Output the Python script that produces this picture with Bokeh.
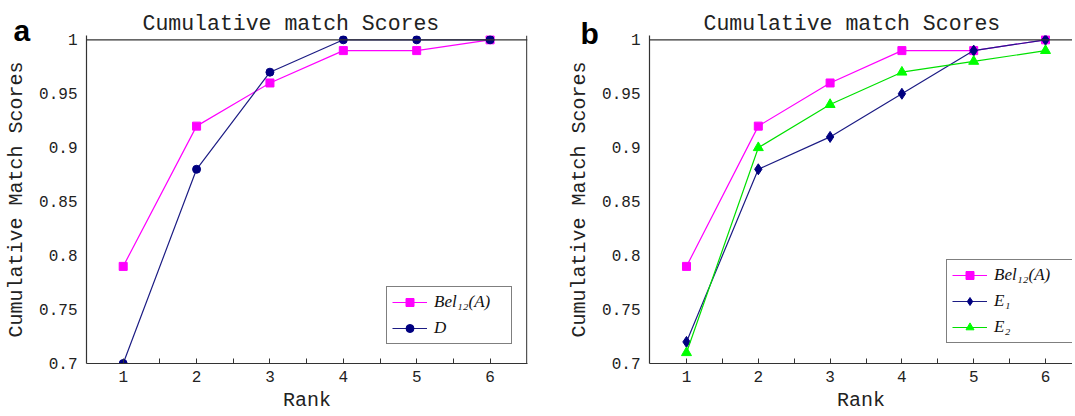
from bokeh.plotting import figure
from bokeh.layouts import row
from bokeh.models import FixedTicker, Legend, LegendItem, Span, Range1d, Title
from bokeh.embed import file_html
from bokeh.resources import INLINE

# ---------------- data ----------------
ranks = [1, 2, 3, 4, 5, 6]
bel12_a = [0.79, 0.92, 0.96, 0.99, 0.99, 1.0]
d_a = [0.70, 0.88, 0.97, 1.0, 1.0, 1.0]
bel12_b = [0.79, 0.92, 0.96, 0.99, 0.99, 1.0]
e1_b = [0.72, 0.88, 0.91, 0.95, 0.99, 1.0]
e2_b = [0.71, 0.90, 0.94, 0.97, 0.98, 0.99]

x_ticks = [1, 1.5, 2, 2.5, 3, 3.5, 4, 4.5, 5, 5.5, 6]
x_tick_labels = ["1", "", "2", "", "3", "", "4", "", "5", "", "6"]
y_ticks = [0.7, 0.75, 0.8, 0.85, 0.9, 0.95, 1]
y_tick_labels = ["0.7", "0.75", "0.8", "0.85", "0.9", "0.95", "1"]

title_text = "Cumulative match Scores"
y_label = "Cumulative Match Scores"
x_label = "Rank"
names_a = ["Bel\u2081\u2082(A)", "D"]
names_b = ["Bel\u2081\u2082(A)", "E\u2081", "E\u2082"]

# ---------------- style ----------------
MONO = "Liberation Mono"
MAGENTA = "#FF00FF"
NAVY = "#000080"
NAVY_LINE = "#1c1c84"
GREEN = "#00FF00"
GREEN_LINE = "#00E000"
AX = "#333333"
TXT = "#222222"
H = 414


def make_panel(width, left, right, x_start, x_end, right_border,
               letter, letter_dx, letter_so, title_dx, title_so):
    p = figure(width=width, height=H,
               x_range=Range1d(x_start, x_end), y_range=Range1d(0.7, 1.004),
               output_backend="svg", toolbar_location=None, title_location=None,
               min_border_left=left, min_border_right=right,
               min_border_top=35, min_border_bottom=H - 363)
    p.grid.visible = False
    p.background_fill_color = "white"
    p.border_fill_color = "white"
    p.outline_line_color = None
    p.add_layout(Span(location=1.0, dimension="width", line_color=AX, line_width=1.2))
    if right_border is not None:
        p.add_layout(Span(location=right_border, dimension="height", line_color=AX, line_width=1.2))

    xa = p.xaxis[0]
    ya = p.yaxis[0]
    xa.ticker = FixedTicker(ticks=x_ticks)
    xa.major_label_overrides = dict(zip(x_ticks, x_tick_labels))
    ya.ticker = FixedTicker(ticks=y_ticks)
    ya.major_label_overrides = dict(zip(y_ticks, y_tick_labels))
    xa.axis_label = x_label
    ya.axis_label = y_label
    for ax in (xa, ya):
        ax.axis_line_color = AX
        ax.axis_line_width = 1.2
        ax.minor_tick_line_color = None
        ax.major_label_text_font = MONO
        ax.major_label_text_font_size = "16px"
        ax.major_label_text_color = TXT
        ax.axis_label_text_font = MONO
        ax.axis_label_text_font_size = "20px"
        ax.axis_label_text_font_style = "normal"
        ax.axis_label_text_color = TXT
    xa.major_tick_in = 5
    xa.major_tick_out = 0
    xa.major_tick_line_color = AX
    xa.major_label_standoff = 7
    xa.axis_label_standoff = 4
    ya.major_tick_in = 0
    ya.major_tick_out = 0
    ya.major_tick_line_color = None
    ya.major_label_standoff = 9
    ya.axis_label_standoff = 8

    # panel letter (inner) and chart title (outer), both above the frame
    p.add_layout(Title(text=letter, align="left", offset=letter_dx, vertical_align="bottom",
                       standoff=letter_so, text_font="Liberation Sans", text_font_style="bold",
                       text_font_size="30px", text_color="black"), "above")
    p.add_layout(Title(text=title_text, align="left", offset=title_dx, vertical_align="bottom",
                       standoff=title_so, text_font=MONO, text_font_style="normal",
                       text_font_size="21.5px", text_color=TXT), "above")
    return p


def series(p, ys, color, line_color, marker, size):
    r1 = p.line(ranks, ys, line_color=line_color, line_width=1.2)
    r2 = p.scatter(ranks, ys, marker=marker, size=size, fill_color=color, line_color=color)
    return [r1, r2]


def legend(p, items, loc, label_width):
    lg = Legend(items=items, location=loc, margin=0,
                border_line_color="black", border_line_width=1.5,
                background_fill_color="white", background_fill_alpha=1.0,
                label_text_font="Liberation Serif", label_text_font_style="italic",
                label_text_font_size="17px", label_text_color="#111111",
                glyph_width=35, glyph_height=20, label_height=20,
                spacing=6, padding=5, label_standoff=7, label_width=label_width)
    p.add_layout(lg)


# panel a
pa = make_panel(562, 86, 35, 0.5, 6.51, 6.5, "a", -73, -22.8, 56, -24)
ra1 = series(pa, bel12_a, MAGENTA, MAGENTA, "square", 8)
ra2 = series(pa, d_a, NAVY, NAVY_LINE, "circle", 8)
legend(pa, [LegendItem(label=names_a[0], renderers=ra1),
            LegendItem(label=names_a[1], renderers=ra2)], (300, 19), 72)

# panel b
pb = make_panel(510, 87, 0, 0.4847, 6.376, None, "b", -69, -28.8, 54, -12)
rb1 = series(pb, bel12_b, MAGENTA, MAGENTA, "square", 8)
rb2 = series(pb, e1_b, NAVY, NAVY_LINE, "diamond", 11)
rb3 = series(pb, e2_b, GREEN, GREEN_LINE, "triangle", 10)
legend(pb, [LegendItem(label=names_b[0], renderers=rb1),
            LegendItem(label=names_b[1], renderers=rb2),
            LegendItem(label=names_b[2], renderers=rb3)], (297, 20), 73)

layout = row(pa, pb)
open("out.html", "w").write(file_html(layout, INLINE))
